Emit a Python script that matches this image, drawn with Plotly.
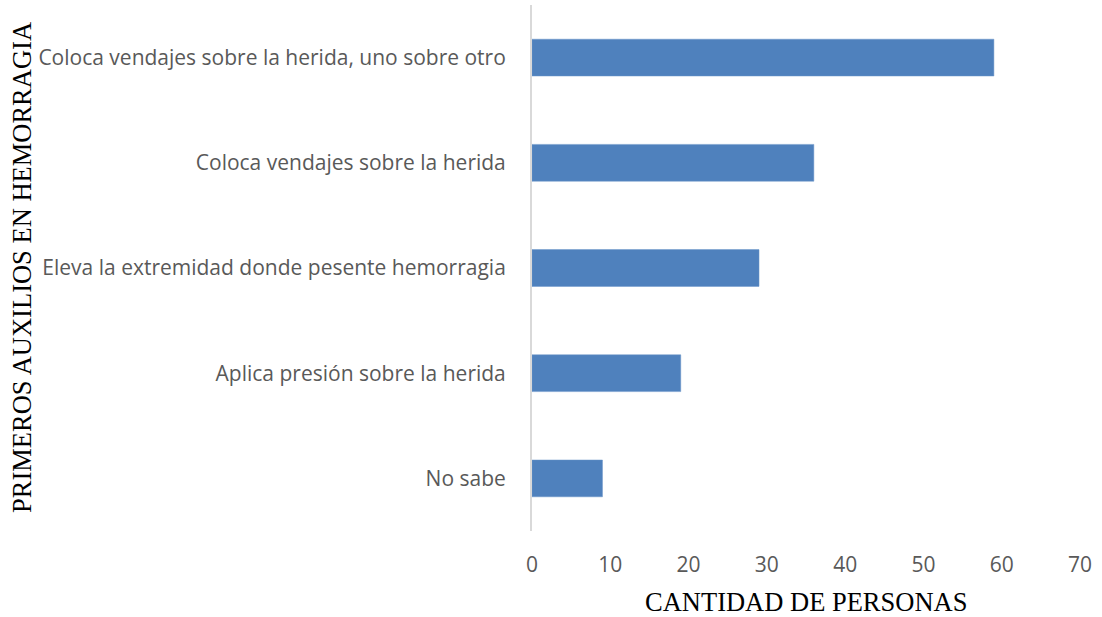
import plotly.graph_objects as go

# Respuestas sobre primeros auxilios ante una hemorragia
categorias = [
    "No sabe",
    "Aplica presión sobre la herida",
    "Eleva la extremidad donde pesente hemorragia",
    "Coloca vendajes sobre la herida",
    "Coloca vendajes sobre la herida, uno sobre otro",
]
cantidades = [9, 19, 29, 36, 59]
ticks_x = [0, 10, 20, 30, 40, 50, 60, 70]

fig = go.Figure(
    go.Bar(
        x=cantidades,
        y=categorias,
        orientation="h",
        marker=dict(color="#4f81bd", line=dict(color="#6a95c9", width=0.5)),
        width=0.35,
    )
)

fig.update_layout(
    width=1102,
    height=617,
    margin=dict(l=532, r=22, t=5, b=86),
    paper_bgcolor="white",
    plot_bgcolor="white",
    showlegend=False,
    font=dict(family="Open Sans", color="#595959", size=21),
    xaxis=dict(
        range=[0, 70],
        tickvals=ticks_x,
        showgrid=False,
        zeroline=False,
        showline=False,
        ticks="",
        tickfont=dict(size=21, color="#595959"),
        ticklabelstandoff=19,
        automargin=False,
    ),
    yaxis=dict(
        showgrid=False,
        zeroline=False,
        showline=True,
        linecolor="#d9d9d9",
        linewidth=2,
        ticks="",
        tickfont=dict(size=21, color="#595959"),
        ticklabelstandoff=20,
        automargin=False,
    ),
    annotations=[
        dict(
            text="PRIMEROS AUXILIOS EN HEMORRAGIA",
            xref="paper", yref="paper",
            x=(22 - 532) / 548, y=0.5,
            xanchor="center", yanchor="middle",
            textangle=-90, showarrow=False,
            font=dict(family="Liberation Serif", size=26.5, color="black"),
        ),
        dict(
            text="CANTIDAD DE PERSONAS",
            xref="paper", yref="paper",
            x=0.5, y=-(602 - 531) / 526,
            xanchor="center", yanchor="middle",
            showarrow=False,
            font=dict(family="Liberation Serif", size=26.5, color="black"),
        ),
    ],
)

fig.write_html("out.html")
